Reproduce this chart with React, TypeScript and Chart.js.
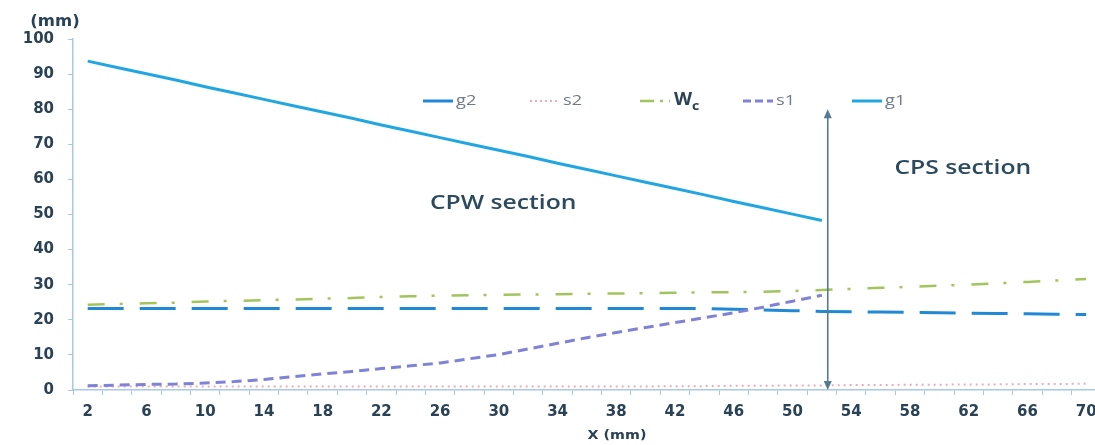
import React, { useEffect, useRef } from "react";
import { Chart, registerables } from "chart.js";

Chart.register(...registerables);

// ---- data ----
const xValues = [2, 4, 6, 8, 10, 12, 14, 16, 18, 20, 22, 24, 26, 28, 30, 32, 34, 36, 38, 40, 42, 44, 46, 48, 50, 52, 54, 56, 58, 60, 62, 64, 66, 68, 70];
const xTickLabels = [2, 6, 10, 14, 18, 22, 26, 30, 34, 38, 42, 46, 50, 54, 58, 62, 66, 70];
const yTickLabels = [0, 10, 20, 30, 40, 50, 60, 70, 80, 90, 100];

const g2 = [23.2, 23.2, 23.2, 23.2, 23.2, 23.2, 23.2, 23.2, 23.2, 23.2, 23.2, 23.2, 23.2, 23.2, 23.2, 23.2, 23.2, 23.2, 23.2, 23.2, 23.2, 23.2, 23.0, 22.8, 22.6, 22.4, 22.3, 22.2, 22.1, 22.0, 21.9, 21.8, 21.7, 21.6, 21.5];
const s2 = [1.0, 1.0, 1.0, 1.0, 1.0, 1.0, 1.0, 1.0, 1.0, 1.0, 1.0, 1.0, 1.0, 1.0, 1.0, 1.0, 1.0, 1.0, 1.0, 1.0, 1.1, 1.1, 1.2, 1.2, 1.3, 1.3, 1.4, 1.4, 1.5, 1.5, 1.6, 1.6, 1.7, 1.7, 1.8];
const wc = [24.3, 24.5, 24.7, 24.9, 25.2, 25.4, 25.6, 25.8, 26.0, 26.2, 26.5, 26.7, 26.9, 27.0, 27.1, 27.2, 27.3, 27.4, 27.5, 27.6, 27.7, 27.8, 27.9, 28.0, 28.2, 28.5, 28.8, 29.1, 29.4, 29.7, 30.0, 30.4, 30.8, 31.2, 31.6];
const s1 = [1.2, 1.4, 1.6, 1.7, 2.0, 2.4, 3.0, 3.8, 4.6, 5.3, 6.1, 6.9, 7.7, 8.9, 10.1, 11.7, 13.3, 14.9, 16.4, 17.8, 19.2, 20.6, 22.0, 23.6, 25.3, 27.0, null, null, null, null, null, null, null, null, null];
const g1 = [93.7, 91.9, 90.1, 88.3, 86.4, 84.6, 82.8, 81.0, 79.2, 77.4, 75.5, 73.7, 71.9, 70.1, 68.3, 66.5, 64.6, 62.8, 61.0, 59.2, 57.4, 55.6, 53.7, 51.9, 50.1, 48.3, null, null, null, null, null, null, null, null, null];

const arrowX = 52.4;
const arrowFrom = 0;
const arrowTo = 80;
const cpwLabel = { text: "CPW section", x: 30.3, y: 53 };
const cpsLabel = { text: "CPS section", x: 61.6, y: 63 };

// ---- styles ----
const C_G1 = "#22a6e2";
const C_G2 = "#2189d4";
const C_S2 = "#f2a7bd";
const C_WC = "#a3c45c";
const C_S1 = "#7f82d6";
const TXT = "#2a4256";
const AXIS = "#a7c8e6";

const toPts = (arr: (number | null)[]) => xValues.map((x, i) => ({ x, y: arr[i] }));

const legendItems = [
  { label: "g2", color: C_G2, dash: [] as number[], width: 3 },
  { label: "s2", color: C_S2, dash: [2, 3], width: 2 },
  { label: "Wc", color: C_WC, dash: [14, 6, 3, 6], width: 2.5 },
  { label: "s1", color: C_S1, dash: [8, 4], width: 3 },
  { label: "g1", color: C_G1, dash: [] as number[], width: 3 },
];

function stretchedText(ctx: CanvasRenderingContext2D, text: string, cx: number, cy: number, font: string, color: string, sx: number, align: "center" | "left" = "center") {
  ctx.save();
  ctx.font = font;
  ctx.fillStyle = color;
  ctx.textBaseline = "middle";
  ctx.textAlign = "left";
  const w = ctx.measureText(text).width * sx;
  const left = align === "center" ? cx - w / 2 : cx;
  ctx.translate(left, cy);
  ctx.scale(sx, 1);
  ctx.fillText(text, 0, 0);
  ctx.restore();
  return w;
}

const overlayPlugin = {
  id: "overlay",
  afterDraw(chart: any) {
    const { ctx, chartArea, scales } = chart;
    const xs = scales.x;
    const ys = scales.y;

    // double-headed arrow
    const ax = xs.getPixelForValue(arrowX);
    const yb = ys.getPixelForValue(arrowFrom);
    const yt = ys.getPixelForValue(arrowTo);
    ctx.save();
    ctx.strokeStyle = "#557a92";
    ctx.fillStyle = "#557a92";
    ctx.lineWidth = 1.6;
    ctx.beginPath();
    ctx.moveTo(ax, yb - 6);
    ctx.lineTo(ax, yt + 6);
    ctx.stroke();
    ctx.beginPath();
    ctx.moveTo(ax, yt);
    ctx.lineTo(ax - 4, yt + 9);
    ctx.lineTo(ax + 4, yt + 9);
    ctx.closePath();
    ctx.fill();
    ctx.beginPath();
    ctx.moveTo(ax, yb);
    ctx.lineTo(ax - 4, yb - 9);
    ctx.lineTo(ax + 4, yb - 9);
    ctx.closePath();
    ctx.fill();
    ctx.restore();

    // section labels
    const secFont = "600 19px 'Open Sans'";
    stretchedText(ctx, cpwLabel.text, xs.getPixelForValue(cpwLabel.x), ys.getPixelForValue(cpwLabel.y), secFont, "#2b4a60", 1.3);
    stretchedText(ctx, cpsLabel.text, xs.getPixelForValue(cpsLabel.x), ys.getPixelForValue(cpsLabel.y), secFont, "#2b4a60", 1.3);

    // legend
    const legendStarts = [350, 457, 567, 670, 779];
    const ly = chartArea.top + 62;
    legendItems.forEach((it, i) => {
      const x0 = chartArea.left + legendStarts[i];
      ctx.save();
      ctx.strokeStyle = it.color;
      ctx.lineWidth = it.width;
      ctx.setLineDash(it.dash);
      ctx.beginPath();
      ctx.moveTo(x0, ly);
      ctx.lineTo(x0 + 30, ly);
      ctx.stroke();
      ctx.restore();
      if (it.label === "Wc") {
        const w = stretchedText(ctx, "W", x0 + 34, ly - 1, "bold 17px 'Open Sans'", TXT, 1.1, "left");
        stretchedText(ctx, "c", x0 + 34 + w, ly + 5, "bold 13px 'Open Sans'", TXT, 1.1, "left");
      } else {
        stretchedText(ctx, it.label, x0 + 33, ly, "14px 'Open Sans'", "#6f7b88", 1.3, "left");
      }
    });

    // axis titles
    stretchedText(ctx, "(mm)", chartArea.left - 18, chartArea.top - 17, "bold 15px 'DejaVu Sans'", TXT, 1.1);
    stretchedText(ctx, "X (mm)", chartArea.left + 544, chartArea.bottom + 46, "bold 13px 'DejaVu Sans'", TXT, 1.1);
  },
};

export default function App() {
  const ref = useRef<HTMLCanvasElement | null>(null);

  useEffect(() => {
    if (!ref.current) return;
    const chart = new Chart(ref.current, {
      type: "line",
      data: {
        datasets: [
          { label: "s1", data: toPts(s1), borderColor: C_S1, borderWidth: 3, borderDash: [10, 6], pointRadius: 0, tension: 0, spanGaps: false },
          { label: "g1", data: toPts(g1), borderColor: C_G1, borderWidth: 3, pointRadius: 0, tension: 0, spanGaps: false },
          { label: "g2", data: toPts(g2), borderColor: C_G2, borderWidth: 3, borderDash: [36, 16], pointRadius: 0, tension: 0 },
          { label: "Wc", data: toPts(wc), borderColor: C_WC, borderWidth: 2.5, borderDash: [17, 15, 3, 17], pointRadius: 0, tension: 0 },
          { label: "s2", data: toPts(s2), borderColor: C_S2, borderWidth: 2, borderDash: [2, 4], pointRadius: 0, tension: 0 },
        ],
      },
      options: {
        animation: false,
        responsive: false,
        layout: { padding: { top: 39, left: 0, right: 25, bottom: 0 } },
        plugins: { legend: { display: false }, tooltip: { enabled: false }, title: { display: false } },
        scales: {
          x: {
            type: "linear",
            min: 1,
            max: 70.6,
            afterBuildTicks: (scale: any) => {
              const t: any[] = [];
              for (let v = 1; v <= 70; v++) t.push({ value: v });
              scale.ticks = t;
            },
            afterFit: (scale: any) => {
              scale.height = 55;
            },
            ticks: {
              autoSkip: false,
              maxRotation: 0,
              padding: 8,
              color: TXT,
              font: { family: "'DejaVu Sans'", weight: "bold", size: 15 },
              callback: (v: any) => (xTickLabels.includes(Number(v)) ? String(v) : ""),
            },
            grid: {
              drawOnChartArea: false,
              drawTicks: true,
              tickLength: 5,
              color: (c: any) => (c.tick && c.tick.value % 2 === 1 ? AXIS : "rgba(0,0,0,0)"),
            },
            border: { display: true, color: AXIS, width: 1.5 },
          },
          y: {
            min: 0,
            max: 100,
            afterBuildTicks: (scale: any) => {
              scale.ticks = yTickLabels.map((v) => ({ value: v }));
            },
            afterFit: (scale: any) => {
              scale.width = 73;
            },
            ticks: {
              padding: 14,
              color: TXT,
              font: { family: "'DejaVu Sans'", weight: "bold", size: 15 },
            },
            grid: { drawOnChartArea: false, drawTicks: true, tickLength: 5, color: AXIS },
            border: { display: true, color: AXIS, width: 1.5 },
          },
        },
      },
      plugins: [overlayPlugin],
    });
    return () => chart.destroy();
  }, []);

  return (
    <div style={{ position: "fixed", left: 0, top: 0, width: 1095, height: 445, overflow: "hidden", background: "#fff" }}>
      <canvas ref={ref} width={1120} height={445} style={{ display: "block" }} />
    </div>
  );
}
